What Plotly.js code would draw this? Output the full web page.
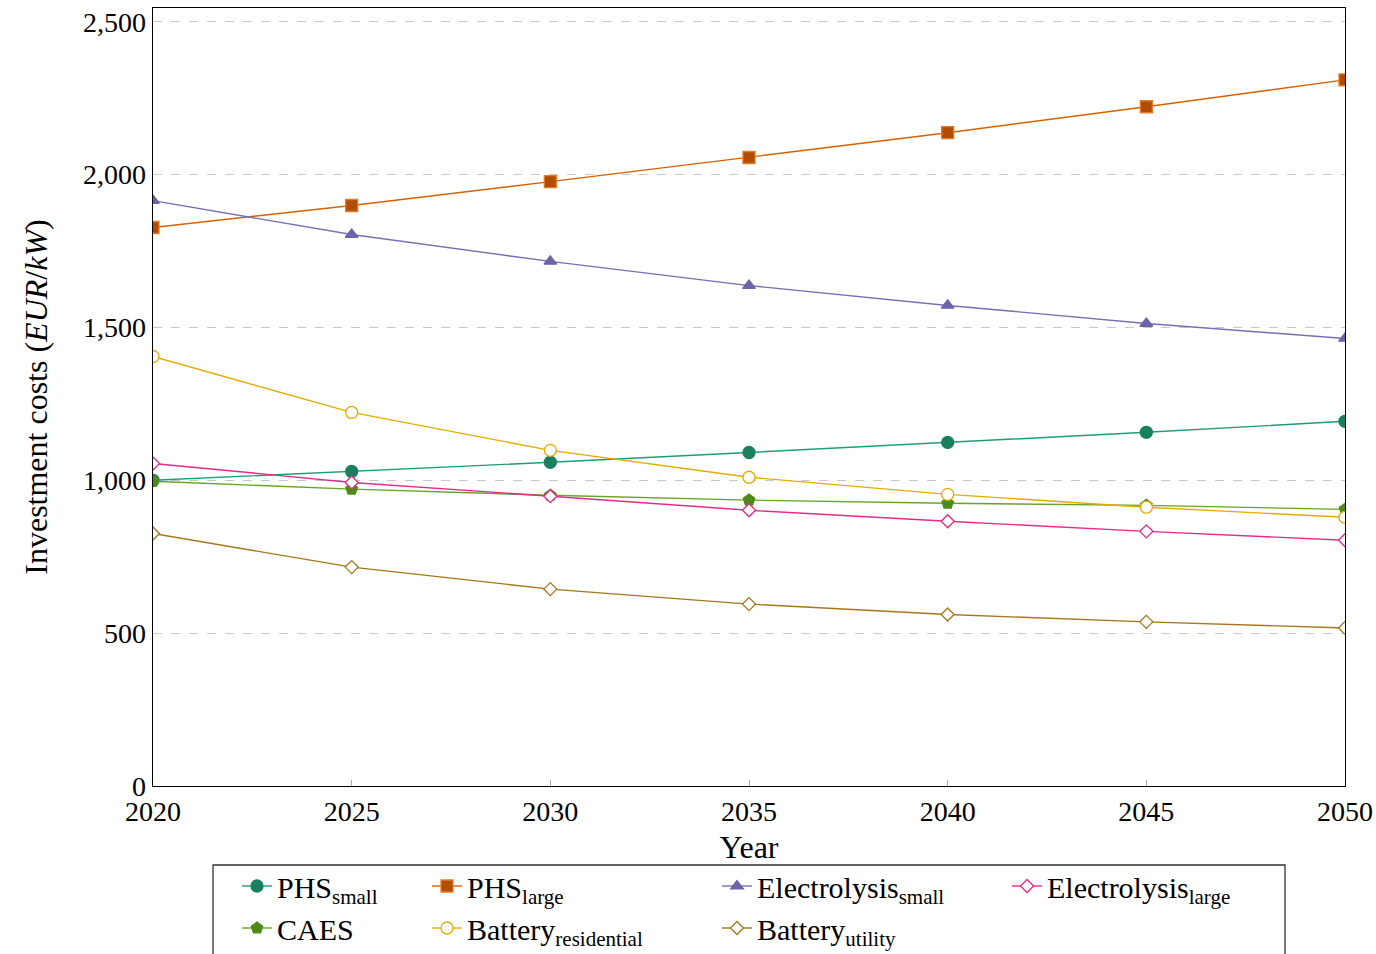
<!DOCTYPE html>
<html>
<head>
<meta charset="utf-8">
<script src="https://cdn.plot.ly/plotly-3.0.1.min.js"></script>
<style>html,body{margin:0;padding:0;background:#fff;}#chart{width:1376px;height:954px;}</style>
</head>
<body>
<div id="chart"></div>
<script>
const years = [2020, 2025, 2030, 2035, 2040, 2045, 2050];
const phsSmall = [1000, 1029, 1059, 1091, 1124, 1157, 1193];
const phsLarge = [1827, 1899, 1977, 2056, 2137, 2222, 2310];
const elecSmall = [1915, 1804, 1716, 1637, 1572, 1513, 1464];
const elecLarge = [1055, 993, 948, 902, 866, 833, 804];
const caes = [997, 971, 951, 935, 925, 918, 905];
const batteryRes = [1405, 1222, 1098, 1010, 954, 912, 879];
const batteryUtil = [826, 716, 644, 595, 561, 537, 517];
const yTicks = [0, 500, 1000, 1500, 2000, 2500];
const yTickText = ['0', '500', '1,000', '1,500', '2,000', '2,500'];
const xTicks = [2020, 2025, 2030, 2035, 2040, 2045, 2050];

const font = "'Liberation Serif', 'DejaVu Serif', serif";

function tr(name, y, lineColor, sym, fill, edge, size, legend) {
  return {
    x: years, y: y, name: name, type: 'scatter', mode: 'lines+markers',
    line: {color: lineColor, width: 1.4},
    marker: {symbol: sym, color: fill, size: size, line: {color: edge, width: 1.3}},
    legend: legend
  };
}

const traces = [
  tr('PHS<sub>small</sub>', phsSmall, '#1b9e77', 'circle', '#18805f', '#18805f', 12, 'legend'),
  tr('CAES', caes, '#66a61e', 'pentagon', '#4f8a18', '#4f8a18', 12, 'legend'),
  tr('PHS<sub>large</sub>', phsLarge, '#d95f02', 'square', '#b24c00', '#e67a2a', 12, 'legend2'),
  tr('Battery<sub>residential</sub>', batteryRes, '#e6ab02', 'circle', '#ffffff', '#e6ab02', 12, 'legend2'),
  tr('Electrolysis<sub>small</sub>', elecSmall, '#7570b3', 'triangle-up', '#6a64a8', '#6a64a8', 11, 'legend3'),
  tr('Battery<sub>utility</sub>', batteryUtil, '#a6761d', 'diamond', '#ffffff', '#a6761d', 10, 'legend3'),
  tr('Electrolysis<sub>large</sub>', elecLarge, '#e7298a', 'diamond', '#ffffff', '#e7298a', 10, 'legend4')
];

const plotH = 786 - 8, plotW = 1345 - 153;
function px(x) { return (x - 153) / plotW; }
function py(y) { return (786 - y) / plotH; }

const legBase = {
  orientation: 'v', yanchor: 'top', xanchor: 'left', y: py(860),
  bgcolor: 'rgba(0,0,0,0)', borderwidth: 0,
  font: {family: font, size: 30, color: '#000'},
  tracegroupgap: 0, itemwidth: 30
};

const layout = {
  width: 1376, height: 954,
  margin: {l: 153, r: 31, t: 8, b: 168, autoexpand: false},
  paper_bgcolor: '#fff', plot_bgcolor: '#fff',
  font: {family: font, color: '#000'},
  xaxis: {
    range: [2020, 2050], tickvals: xTicks, ticktext: xTicks.map(String),
    showgrid: false, zeroline: false, showline: true, linecolor: '#000', linewidth: 1.3, mirror: true,
    ticks: 'inside', ticklen: 6, tickcolor: '#aaa',
    tickfont: {family: font, size: 28},
    title: {text: 'Year', font: {family: font, size: 32}, standoff: 9}
  },
  yaxis: {
    range: [0, 2545], tickvals: yTicks, ticktext: yTickText,
    showgrid: true, gridcolor: '#c8c8c8', griddash: 'dash', gridwidth: 1.2,
    zeroline: false, showline: true, linecolor: '#000', linewidth: 1.3, mirror: true,
    ticks: '', tickfont: {family: font, size: 28},
    title: {text: 'Investment costs (<i>EUR</i>/<i>kW</i>)', font: {family: font, size: 32}, standoff: 26}
  },
  legend: Object.assign({}, legBase, {x: px(237)}),
  legend2: Object.assign({}, legBase, {x: px(427)}),
  legend3: Object.assign({}, legBase, {x: px(717)}),
  legend4: Object.assign({}, legBase, {x: px(1007)}),
  shapes: [{
    type: 'rect', xref: 'paper', yref: 'paper',
    x0: px(213), x1: px(1285), y0: py(865), y1: py(1000),
    line: {color: '#333', width: 1.3}, fillcolor: 'rgba(0,0,0,0)', layer: 'below'
  }],
  showlegend: true
};

Plotly.newPlot('chart', traces, layout, {displayModeBar: false, staticPlot: true});
</script>
</body>
</html>
